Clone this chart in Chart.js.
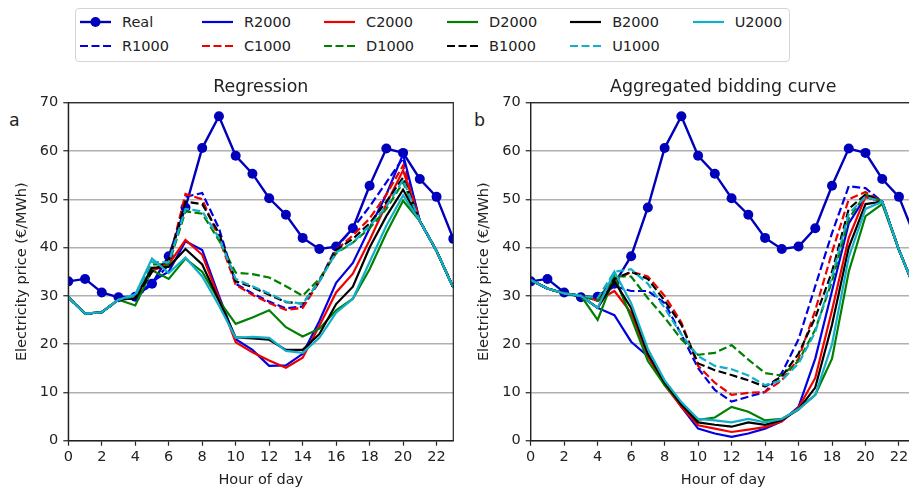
<!DOCTYPE html>
<html>
<head>
<meta charset="utf-8">
<script src="https://cdn.jsdelivr.net/npm/chart.js@4.4.1/dist/chart.umd.min.js"></script>
<style>
    body { margin: 0; background: #fff; }
    #figure { position: relative; width: 909px; height: 489px; overflow: hidden; background: #fff; font-family: 'DejaVu Sans', sans-serif; color: #222; }
    #legend {
        position: absolute; left: 75px; top: 8px; width: 715px; height: 54px;
        box-sizing: border-box; border: 1px solid #d5d5d5; border-radius: 4px;
        padding: 1px 0 0 4px; display: grid; grid-template-columns: repeat(6, max-content);
        grid-auto-rows: 24px; column-gap: 33px; z-index: 2; background: #fff;
    }
    .legend-item { display: flex; align-items: center; font-size: 14.5px; }
    .legend-item svg { margin-right: 11px; }
    .panel-tag { position: absolute; font-size: 17.4px; line-height: 1; }
    #regressionChart { position: absolute; left: 0; top: 0; }
    #biddingBox { position: absolute; left: 460px; top: 0; width: 449px; height: 489px; overflow: hidden; }
</style>
</head>
<body>
<div id="figure">
    <div id="legend"></div>
    <span class="panel-tag" style="left:9px;top:112px">a</span>
    <span class="panel-tag" style="left:474px;top:112px">b</span>
    <canvas id="regressionChart" width="460" height="489"></canvas>
    <div id="biddingBox"><canvas id="biddingChart" width="470" height="489"></canvas></div>
</div>
<script>
// Hourly electricity prices (€/MWh)
const hours = [0, 1, 2, 3, 4, 5, 6, 7, 8, 9, 10, 11, 12, 13, 14, 15, 16, 17, 18, 19, 20, 21, 22, 23];
const xTicks = [0, 2, 4, 6, 8, 10, 12, 14, 16, 18, 20, 22];
const yTicks = [0, 10, 20, 30, 40, 50, 60, 70];

const realPrice = [33.0, 33.5, 30.7, 29.7, 29.8, 32.5, 38.2, 48.3, 60.6, 67.2, 59.0, 55.3, 50.2, 46.8, 42.0, 39.7, 40.2, 44.0, 52.8, 60.5, 59.6, 54.2, 50.5, 41.8];

// Panel a: regression forecasts
const regR1000 = [29.7, 26.3, 26.6, 29.2, 29.5, 32.5, 36.5, 50.5, 51.3, 44.0, 32.5, 30.5, 28.8, 27.4, 27.8, 33.0, 40.0, 44.0, 48.5, 53.5, 58.5, 45.5, 39.3, 31.7];
const regR2000 = [29.7, 26.3, 26.6, 29.2, 29.5, 33.0, 35.0, 41.3, 39.5, 30.0, 21.0, 18.8, 15.5, 15.6, 18.0, 24.8, 32.7, 36.8, 44.0, 51.0, 59.3, 45.5, 39.3, 31.7];
const regC1000 = [29.7, 26.3, 26.6, 29.2, 29.8, 35.0, 37.0, 51.1, 50.0, 42.0, 32.3, 30.2, 28.5, 27.1, 27.5, 33.0, 39.5, 42.5, 46.0, 51.0, 57.0, 45.5, 39.3, 31.7];
const regC2000 = [29.7, 26.3, 26.6, 29.2, 29.8, 35.2, 36.5, 41.6, 38.5, 29.5, 20.4, 18.3, 16.6, 15.1, 17.2, 23.8, 30.7, 34.6, 41.5, 49.0, 56.0, 45.5, 39.3, 31.7];
const regD1000 = [29.7, 26.3, 26.6, 29.2, 30.0, 36.5, 36.5, 47.5, 47.0, 41.5, 34.8, 34.5, 33.8, 32.0, 30.0, 33.5, 38.8, 41.0, 44.0, 48.0, 53.5, 45.5, 39.3, 31.7];
const regD2000 = [29.7, 26.3, 26.6, 29.2, 28.0, 35.3, 33.5, 37.7, 35.0, 29.0, 24.2, 25.5, 27.0, 23.5, 21.6, 23.2, 27.0, 29.4, 35.5, 43.0, 49.7, 45.5, 39.3, 31.7];
const regB1000 = [29.7, 26.3, 26.6, 29.2, 29.5, 35.0, 37.5, 49.5, 49.0, 43.0, 33.0, 31.8, 30.2, 28.7, 28.4, 33.0, 39.5, 41.8, 45.0, 49.5, 54.5, 45.5, 39.3, 31.7];
const regB2000 = [29.7, 26.3, 26.6, 29.2, 29.5, 35.8, 36.0, 39.7, 36.5, 29.0, 21.4, 21.2, 20.9, 18.8, 18.8, 22.1, 28.3, 31.9, 40.0, 46.5, 52.0, 45.5, 39.3, 31.7];
const regU1000 = [29.7, 26.3, 26.6, 29.2, 30.0, 37.0, 37.0, 48.0, 47.5, 42.0, 33.5, 32.0, 30.5, 28.8, 28.4, 33.0, 39.0, 41.0, 44.5, 48.5, 54.0, 45.5, 39.3, 31.7];
const regU2000 = [29.7, 26.3, 26.6, 29.2, 30.3, 37.7, 34.7, 37.9, 34.0, 28.0, 21.3, 21.5, 21.3, 18.6, 18.2, 21.3, 26.5, 29.4, 37.0, 44.5, 50.8, 45.5, 39.3, 31.7];

// Panel b: aggregated bidding curve forecasts
const abcR1000 = [33.3, 31.5, 30.5, 30.0, 29.5, 32.0, 31.0, 31.0, 28.5, 22.0, 15.0, 10.5, 8.1, 9.1, 10.1, 14.0, 21.0, 32.0, 43.0, 52.7, 52.3, 49.5, 39.5, 31.0];
const abcR2000 = [33.3, 31.5, 30.5, 30.0, 27.5, 26.0, 20.5, 17.5, 12.0, 7.0, 2.5, 1.5, 0.8, 1.5, 2.5, 4.0, 7.0, 17.0, 31.0, 45.0, 50.5, 49.5, 39.5, 31.0];
const abcC1000 = [33.3, 31.5, 30.5, 30.0, 29.5, 33.0, 35.0, 34.0, 30.0, 24.5, 15.5, 12.0, 9.5, 9.9, 10.1, 12.5, 17.0, 27.0, 39.0, 50.0, 51.5, 49.5, 39.5, 31.0];
const abcC2000 = [33.3, 31.5, 30.5, 30.0, 29.0, 31.0, 26.5, 17.5, 11.5, 7.0, 3.2, 2.5, 1.8, 2.3, 2.8, 4.0, 6.8, 13.0, 27.0, 42.0, 50.5, 49.5, 39.5, 31.0];
const abcD1000 = [33.3, 31.5, 30.5, 30.0, 29.0, 34.0, 34.0, 29.5, 25.5, 21.0, 17.8, 18.2, 19.8, 16.8, 14.0, 13.5, 16.5, 23.0, 33.0, 46.0, 51.0, 49.5, 39.5, 31.0];
const abcD2000 = [33.3, 31.5, 30.5, 30.0, 25.0, 34.0, 25.5, 16.5, 11.5, 7.5, 4.3, 4.8, 7.0, 6.0, 4.2, 4.5, 6.5, 9.5, 17.0, 35.0, 46.5, 49.0, 39.5, 31.0];
const abcB1000 = [33.3, 31.5, 30.5, 30.0, 29.5, 33.5, 35.0, 33.5, 29.0, 24.0, 16.0, 14.6, 13.6, 12.5, 11.2, 13.3, 18.0, 25.5, 35.0, 48.0, 51.0, 49.5, 39.5, 31.0];
const abcB2000 = [33.3, 31.5, 30.5, 30.0, 27.5, 33.0, 27.5, 18.0, 12.0, 7.5, 3.8, 3.3, 2.9, 3.8, 3.3, 4.3, 6.5, 11.0, 24.0, 40.0, 49.0, 49.5, 39.5, 31.0];
const abcU1000 = [33.3, 31.5, 30.5, 30.0, 29.5, 35.0, 35.5, 32.5, 27.5, 22.0, 17.5, 15.5, 14.8, 13.5, 11.5, 12.5, 16.0, 22.5, 34.0, 47.0, 50.5, 49.5, 39.5, 31.0];
const abcU2000 = [33.3, 31.5, 30.5, 30.0, 27.5, 35.0, 28.5, 19.0, 12.5, 8.0, 4.5, 4.2, 3.8, 4.5, 3.8, 4.5, 6.5, 9.5, 20.0, 38.0, 48.0, 49.5, 39.5, 31.0];

// Series names in plotting order (1000 then 2000 for each method)
const seriesNames = ['R1000', 'R2000', 'C1000', 'C2000', 'D1000', 'D2000', 'B1000', 'B2000', 'U1000', 'U2000'];
// Legend layout: first row, second row
const legendRows = [
    ['Real', 'R2000', 'C2000', 'D2000', 'B2000', 'U2000'],
    ['R1000', 'C1000', 'D1000', 'B1000', 'U1000']
];

const FONT = 'DejaVu Sans';
const TEXT_COLOR = '#222';
const REAL_COLOR = '#0000bb';
const methodColors = { R: '#0000e0', C: '#ee0000', D: '#008000', B: '#000000', U: '#12afc8' };
const DASH = [8, 3.5];

function colorOf(name) {
    return name === 'Real' ? REAL_COLOR : methodColors[name[0]];
}

function isDashed(name) {
    return name.endsWith('1000');
}

function toPoints(values) {
    return hours.map((h, i) => ({ x: h, y: values[i] }));
}

function buildDatasets(forecasts) {
    const sets = [{
        label: 'Real',
        data: toPoints(realPrice),
        borderColor: REAL_COLOR,
        backgroundColor: REAL_COLOR,
        borderWidth: 2.4,
        pointRadius: 5,
        pointHoverRadius: 5,
        pointBorderWidth: 0
    }];
    seriesNames.forEach((name, i) => {
        sets.push({
            label: name,
            data: toPoints(forecasts[i]),
            borderColor: colorOf(name),
            backgroundColor: colorOf(name),
            borderWidth: 2.2,
            borderDash: isDashed(name) ? DASH : [],
            pointRadius: 0,
            pointHoverRadius: 0
        });
    });
    // later series sit on top
    sets.forEach((s, i) => { s.order = sets.length - i; });
    return sets;
}

// Box around the plotting area
const axesFrame = {
    id: 'axesFrame',
    afterDatasetsDraw(chart) {
        const { ctx, chartArea: a } = chart;
        ctx.save();
        ctx.strokeStyle = '#222';
        ctx.lineWidth = 1.2;
        ctx.strokeRect(a.left, a.top, a.right - a.left, a.bottom - a.top);
        ctx.restore();
    }
};

function panelOptions(title, yAxisWidth, yTitlePad, padRight) {
    const tickFont = { family: FONT, size: 14.5 };
    return {
        responsive: false,
        animation: false,
        events: [],
        layout: { padding: { top: 76.6, right: padRight, bottom: 0, left: 0 } },
        plugins: {
            legend: { display: false },
            tooltip: { enabled: false },
            title: {
                display: true,
                text: title,
                fullSize: false,
                color: TEXT_COLOR,
                font: { family: FONT, size: 17.4, weight: 'normal' },
                padding: { top: 0, bottom: 5.2 }
            }
        },
        scales: {
            x: {
                type: 'linear',
                min: 0,
                max: 23,
                afterFit: scale => { scale.height = 48.3; },
                afterBuildTicks: scale => { scale.ticks = xTicks.map(v => ({ value: v })); },
                ticks: { font: tickFont, color: TEXT_COLOR, padding: 3, maxRotation: 0, autoSkip: false },
                grid: { drawOnChartArea: false, tickLength: 5, tickColor: '#222', tickWidth: 1.2 },
                border: { display: true, color: '#222', width: 1.2 },
                title: {
                    display: true,
                    text: 'Hour of day',
                    color: TEXT_COLOR,
                    font: { family: FONT, size: 14.5 },
                    padding: { top: 0, bottom: 0 }
                }
            },
            y: {
                min: 0,
                max: 70,
                afterFit: scale => { scale.width = yAxisWidth; },
                afterBuildTicks: scale => { scale.ticks = yTicks.map(v => ({ value: v })); },
                ticks: { font: tickFont, color: TEXT_COLOR, padding: 5 },
                grid: { color: '#b0b0b0', lineWidth: 1.5, tickLength: 5, tickColor: '#222', tickWidth: 1.2 },
                border: { display: true, color: '#222', width: 1.2 },
                title: {
                    display: true,
                    text: 'Electricity price (€/MWh)',
                    color: TEXT_COLOR,
                    font: { family: FONT, size: 14.5 },
                    padding: { top: yTitlePad, bottom: 0 }
                }
            }
        }
    };
}

new Chart(document.getElementById('regressionChart'), {
    type: 'line',
    data: {
        datasets: buildDatasets([regR1000, regR2000, regC1000, regC2000, regD1000, regD2000, regB1000, regB2000, regU1000, regU2000])
    },
    options: panelOptions('Regression', 68.3, 13.3, 6.7),
    plugins: [axesFrame]
});

new Chart(document.getElementById('biddingChart'), {
    type: 'line',
    data: {
        datasets: buildDatasets([abcR1000, abcR2000, abcC1000, abcC2000, abcD1000, abcD2000, abcB1000, abcB2000, abcU1000, abcU2000])
    },
    options: panelOptions('Aggregated bidding curve', 70.7, 15.3, 14.3),
    plugins: [axesFrame]
});

// Shared legend above both panels
function swatch(name) {
    const color = colorOf(name);
    let svg = '<svg width="31" height="12" viewBox="0 0 31 12">';
    if (name === 'Real') {
        svg += `<line x1="0" y1="6" x2="31" y2="6" stroke="${color}" stroke-width="2.4"/>`;
        svg += `<circle cx="15.5" cy="6" r="5" fill="${color}"/>`;
    } else {
        const dash = isDashed(name) ? ` stroke-dasharray="${DASH.join(' ')}"` : '';
        svg += `<line x1="0" y1="6" x2="31" y2="6" stroke="${color}" stroke-width="2.2"${dash}/>`;
    }
    return svg + '</svg>';
}

const legend = document.getElementById('legend');
const columns = legendRows[0].length;
for (let c = 0; c < columns; c++) {
    legendRows.forEach((row, r) => {
        const name = row[c];
        if (!name) return;
        const item = document.createElement('div');
        item.className = 'legend-item';
        item.style.gridColumn = String(c + 1);
        item.style.gridRow = String(r + 1);
        item.innerHTML = swatch(name) + '<span>' + name + '</span>';
        legend.appendChild(item);
    });
}
</script>
</body>
</html>
